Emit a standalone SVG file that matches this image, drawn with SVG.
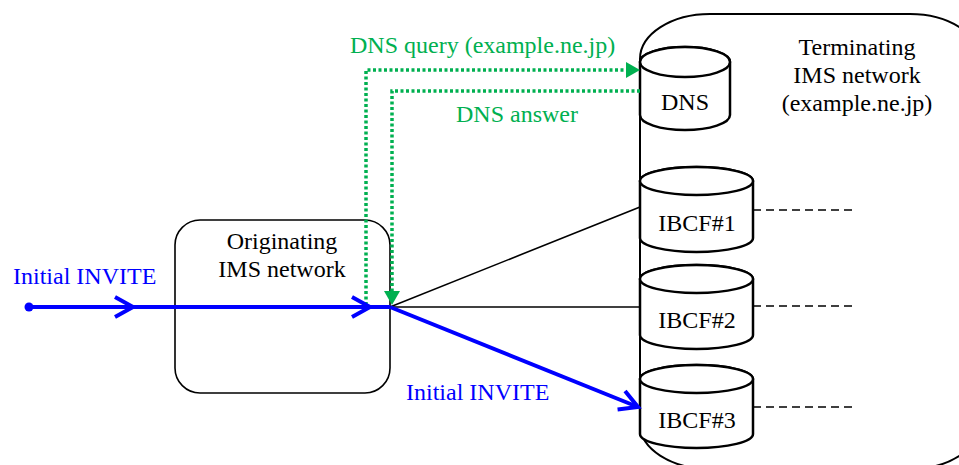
<svg xmlns="http://www.w3.org/2000/svg" width="959" height="465" viewBox="0 0 959 465" font-family="Liberation Serif, Times New Roman, serif" font-size="24">
<style>
.blk{fill:#000}
.blue{fill:#0000FF}
.green{fill:#00B050}
.net{fill:#fff;stroke:#000}
.cyl{fill:#fff;stroke:#000;stroke-width:2.5}
.bl{stroke:#000;stroke-width:1.6;fill:none}
.inv{stroke:#0000FF;stroke-width:4;fill:none}
.dns{stroke:#00B050;stroke-width:3.5;stroke-dasharray:3 2.5;fill:none}
.dash{stroke:#000;stroke-width:1.6;stroke-dasharray:8 5;fill:none}
</style>
<defs>
<marker id="chev" markerUnits="userSpaceOnUse" markerWidth="30" markerHeight="30" viewBox="-25 -15 30 30" refX="0" refY="0" orient="auto" overflow="visible">
<path d="M-18,-10 L0,0 L-18,10" fill="none" stroke="#0000FF" stroke-width="4"/>
</marker>
<marker id="garr" markerUnits="userSpaceOnUse" markerWidth="20" markerHeight="20" viewBox="0 -10 16 20" refX="0" refY="0" orient="auto" overflow="visible">
<path d="M0,-8 L14,0 L0,8 Z" fill="#00B050"/>
</marker>
</defs>
<g id="terminating">
<rect class="net" x="640" y="14" width="340" height="455" rx="70" ry="45" stroke-width="2"/>
<text class="blk" font-family="Liberation Serif, serif" x="857" y="55" text-anchor="middle">Terminating</text>
<text class="blk" font-family="Liberation Serif, serif" x="857" y="83" text-anchor="middle">IMS network</text>
<text class="blk" font-family="Liberation Serif, serif" x="857" y="111" text-anchor="middle">(example.ne.jp)</text>
</g>
<g id="originating">
<rect class="net" x="175" y="220" width="215" height="173" rx="25" ry="25" stroke-width="1.6"/>
<text class="blk" font-family="Liberation Serif, serif" x="282" y="249" text-anchor="middle">Originating</text>
<text class="blk" font-family="Liberation Serif, serif" x="282" y="277" text-anchor="middle">IMS network</text>
</g>
<g id="dns">
<path class="cyl" d="M640,62 L640,115 A45,15 0 0 0 730,115 L730,62 A45,15 0 0 0 640,62 Z"/>
<ellipse class="cyl" cx="685" cy="62" rx="45" ry="15"/>
<text class="blk" font-family="Liberation Serif, serif" x="685" y="110" text-anchor="middle">DNS</text>
</g>
<g id="ibcf1">
<path class="cyl" d="M640,181 L640,238 A56.5,14 0 0 0 753,238 L753,181 A56.5,14 0 0 0 640,181 Z"/>
<ellipse class="cyl" cx="696.5" cy="181" rx="56.5" ry="14"/>
<text class="blk" font-family="Liberation Serif, serif" x="697" y="231" text-anchor="middle">IBCF#1</text>
</g>
<g id="ibcf2">
<path class="cyl" d="M640,279 L640,335 A56.5,14 0 0 0 753,335 L753,279 A56.5,14 0 0 0 640,279 Z"/>
<ellipse class="cyl" cx="696.5" cy="279" rx="56.5" ry="14"/>
<text class="blk" font-family="Liberation Serif, serif" x="697" y="328" text-anchor="middle">IBCF#2</text>
</g>
<g id="ibcf3">
<path class="cyl" d="M640,379 L640,434 A56.5,14 0 0 0 753,434 L753,379 A56.5,14 0 0 0 640,379 Z"/>
<ellipse class="cyl" cx="696.5" cy="379" rx="56.5" ry="14"/>
<text class="blk" font-family="Liberation Serif, serif" x="697" y="428" text-anchor="middle">IBCF#3</text>
</g>
<g id="connectors">
<path class="bl" d="M390,307 L640,207"/>
<path class="bl" d="M390,307 L640,307"/>
<path class="dash" d="M753,210 L852,210"/>
<path class="dash" d="M753,306 L852,306"/>
<path class="dash" d="M753,407 L852,407"/>
<path class="dns" d="M366,305 L366,70 L626,70" marker-end="url(#garr)"/>
<path class="dns" d="M640,91 L392,91 L392,291" marker-end="url(#garr)"/>
<circle cx="29" cy="307" r="4.5" fill="#0000FF"/>
<path class="inv" d="M29,307 L133,307 L370,307 L390,307" marker-mid="url(#chev)"/>
<path class="inv" d="M390,307 L638,407" marker-end="url(#chev)"/>
<text class="green" font-family="Liberation Serif, serif" x="350" y="53">DNS query (example.ne.jp)</text>
<text class="green" font-family="Liberation Serif, serif" x="456" y="122">DNS answer</text>
<text class="blue" font-family="Liberation Serif, serif" x="13" y="284">Initial INVITE</text>
<text class="blue" font-family="Liberation Serif, serif" x="406" y="400">Initial INVITE</text>
</g>
</svg>
